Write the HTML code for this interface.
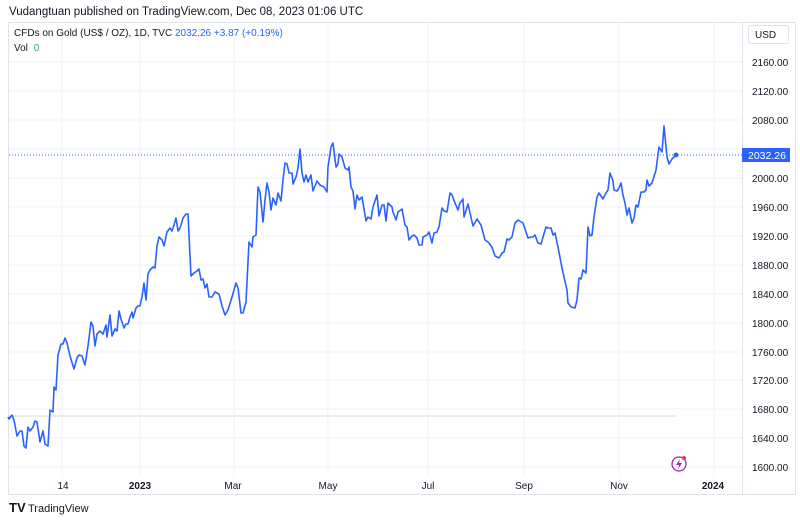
<!DOCTYPE html>
<html><head><meta charset="utf-8"><style>
body{margin:0;width:800px;height:523px;background:#fff;font-family:"Liberation Sans",sans-serif;overflow:hidden}
</style></head><body>
<svg width="800" height="523" xmlns="http://www.w3.org/2000/svg" font-family="Liberation Sans, sans-serif">
<text x="9" y="15" font-size="11.5" fill="#131722">Vudangtuan published on TradingView.com, Dec 08, 2023 01:06 UTC</text>
<rect x="8.5" y="22.5" width="787" height="472" fill="none" stroke="#e0e3eb"/>
<g stroke="#f0f3fa" stroke-width="1">
<line x1="9" y1="62" x2="742" y2="62"/><line x1="9" y1="91" x2="742" y2="91"/><line x1="9" y1="120" x2="742" y2="120"/><line x1="9" y1="149" x2="742" y2="149"/><line x1="9" y1="178" x2="742" y2="178"/><line x1="9" y1="207" x2="742" y2="207"/><line x1="9" y1="236" x2="742" y2="236"/><line x1="9" y1="265" x2="742" y2="265"/><line x1="9" y1="294" x2="742" y2="294"/><line x1="9" y1="323" x2="742" y2="323"/><line x1="9" y1="352" x2="742" y2="352"/><line x1="9" y1="380" x2="742" y2="380"/><line x1="9" y1="409" x2="742" y2="409"/><line x1="9" y1="438" x2="742" y2="438"/><line x1="9" y1="467" x2="742" y2="467"/>
<line x1="62" y1="23" x2="62" y2="476"/><line x1="140" y1="23" x2="140" y2="476"/><line x1="234" y1="23" x2="234" y2="476"/><line x1="328" y1="23" x2="328" y2="476"/><line x1="428" y1="23" x2="428" y2="476"/><line x1="524" y1="23" x2="524" y2="476"/><line x1="619" y1="23" x2="619" y2="476"/><line x1="714" y1="23" x2="714" y2="476"/>
</g>
<line x1="742.5" y1="23" x2="742.5" y2="494" stroke="#e0e3eb"/>
<text x="14" y="36" font-size="10" fill="#131722">CFDs on Gold (US$ / OZ), 1D, TVC <tspan fill="#2962ff">2032.26 +3.87 (+0.19%)</tspan></text>
<text x="14" y="51" font-size="10" fill="#131722">Vol <tspan fill="#26a69a" dx="3">0</tspan></text>
<rect x="748.5" y="25.5" width="40" height="18" rx="2" fill="#fff" stroke="#e0e3eb"/>
<text x="755" y="38" font-size="10" fill="#131722">USD</text>
<g font-size="10" fill="#131722">
<text x="752" y="66">2160.00</text><text x="752" y="95">2120.00</text><text x="752" y="124">2080.00</text><text x="752" y="182">2000.00</text><text x="752" y="211">1960.00</text><text x="752" y="240">1920.00</text><text x="752" y="269">1880.00</text><text x="752" y="298">1840.00</text><text x="752" y="327">1800.00</text><text x="752" y="356">1760.00</text><text x="752" y="384">1720.00</text><text x="752" y="413">1680.00</text><text x="752" y="442">1640.00</text><text x="752" y="471">1600.00</text>
</g>
<g font-size="10" fill="#131722" text-anchor="middle">
<text x="63" y="489">14</text><text x="140" y="489" font-weight="bold">2023</text><text x="233" y="489">Mar</text><text x="328" y="489">May</text><text x="428" y="489">Jul</text><text x="524" y="489">Sep</text><text x="619" y="489">Nov</text><text x="713" y="489" font-weight="bold">2024</text>
</g>
<line x1="9" y1="416" x2="676" y2="416" stroke="#ef9a9a" stroke-dasharray="1,3"/>
<line x1="11" y1="416" x2="676" y2="416" stroke="#80cbc4" stroke-dasharray="1,3"/>
<line x1="9" y1="155" x2="742" y2="155" stroke="#2962ff" stroke-dasharray="1,2"/>
<polyline fill="none" stroke="#2962ff" stroke-width="1.6" stroke-linejoin="round" points="8,417 9,419 12,415 14,420 17,436 20,431 22,431 24,446 26,448 28,427 30,431 33,427 35,421 37,422 40,442 43,431 45,444 48,446 50,410 53,412 54,387 56,390 58,355 61,344 63,344 65,338 67,343 70,356 74,369 77,358 79,355 82,356 85,365 88,346 91,322 93,326 95,346 97,334 100,331 103,334 106,325 107,337 110,315 112,336 115,329 117,331 119,311 121,319 124,328 126,324 128,324 130,317 132,312 133,318 136,308 138,306 140,306 142,297 144,283 146,300 148,274 150,270 153,267 155,268 157,246 159,237 162,240 164,246 167,232 170,228 172,231 174,225 176,218 178,231 179,230 181,225 183,218 186,214 188,214 191,276 194,273 197,271 199,269 201,280 203,279 205,288 207,284 209,297 212,297 215,292 219,294 222,306 225,315 228,310 232,297 236,283 238,288 241,313 243,313 246,302 249,242 252,247 253,237 256,235 258,187 260,192 263,222 265,200 267,183 269,192 271,210 273,198 276,205 278,193 281,201 283,180 285,163 287,164 289,173 292,173 293,184 296,177 298,168 300,149 302,173 304,182 306,175 308,182 311,175 313,191 317,181 320,185 324,187 327,192 328,167 331,147 333,143 336,167 338,164 339,154 342,157 345,168 348,170 349,167 351,187 353,191 355,209 357,195 359,200 362,197 366,221 368,217 371,219 373,207 377,195 379,216 382,205 384,205 386,221 388,203 392,207 393,212 396,220 398,212 402,209 405,225 407,227 409,240 412,236 414,235 417,238 419,245 422,245 423,237 427,235 429,232 432,243 434,233 437,232 439,227 442,208 444,211 447,212 450,193 452,195 455,203 458,210 460,203 463,199 464,217 468,204 473,226 477,219 481,225 485,240 488,242 492,247 495,256 499,258 502,253 504,252 507,239 509,240 512,237 515,223 518,220 523,223 526,232 528,238 531,237 533,237 535,235 538,243 541,244 543,237 546,227 548,228 551,228 553,235 555,233 558,247 562,268 564,277 567,290 568,303 571,307 575,308 577,300 579,278 581,279 583,270 586,273 588,227 590,236 592,235 594,217 597,197 599,193 603,199 606,193 608,190 610,173 613,181 614,190 617,191 619,188 621,183 623,195 625,203 627,215 629,208 632,223 634,218 636,205 638,207 641,192 644,192 646,190 647,180 649,186 652,183 656,170 659,147 662,152 664,126 667,157 669,164 672,159 676,155"/>
<circle cx="676" cy="155" r="2.5" fill="#2962ff"/>
<rect x="742" y="148" width="48" height="14" fill="#2962ff"/>
<text x="748" y="159" font-size="10.5" fill="#fff">2032.26</text>
<circle cx="679" cy="464" r="7" fill="none" stroke="#9c27b0" stroke-width="1.3"/>
<path d="M680,459 L676,465 L679,465 L678,469 L682,463 L679,463 Z" fill="#9c27b0"/>
<circle cx="684" cy="458" r="2" fill="#f23645"/>
<text x="9" y="512" font-size="13" font-weight="bold" fill="#131722">TV</text>
<text x="28" y="512" font-size="11" fill="#131722">TradingView</text>
</svg>
</body></html>
